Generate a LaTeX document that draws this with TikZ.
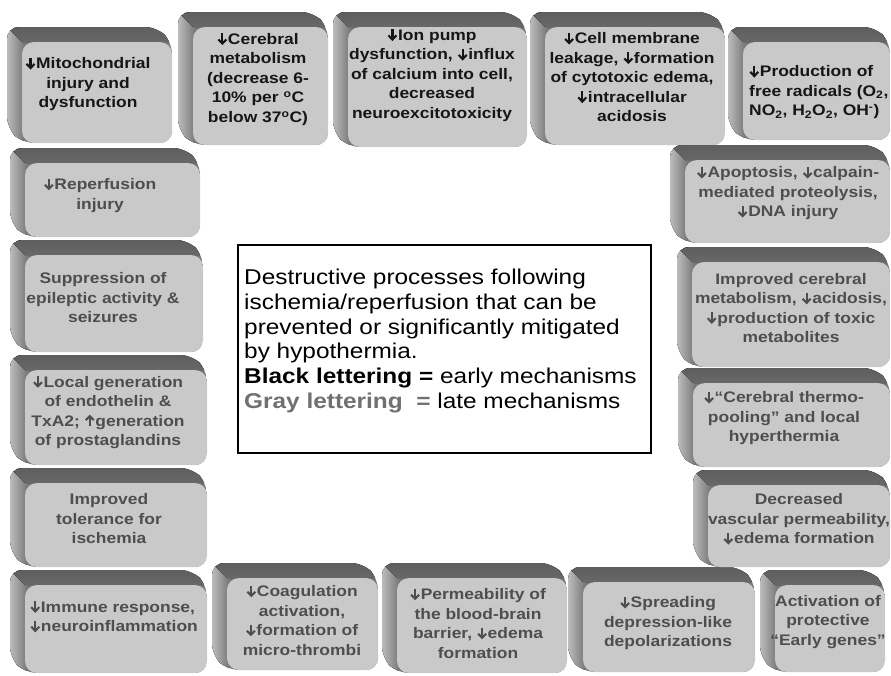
\documentclass[tikz,border=0pt]{standalone}
\usepackage{fontspec}
\setmainfont{Liberation Sans}[FakeStretch=1.14]
\usepackage{tikz}
\definecolor{bevFace}{RGB}{201,201,201}
\definecolor{bevTop}{RGB}{104,104,104}
\definecolor{bevLight}{RGB}{192,192,192}
\definecolor{bevDark}{RGB}{120,120,120}
\definecolor{earlyText}{RGB}{22,22,22}
\definecolor{lateText}{RGB}{78,78,78}
\definecolor{legendGray}{RGB}{112,112,112}
\tikzstyle{boxText} = [font=\bfseries\fontsize{15.3}{19.5}\selectfont, align=center, inner sep=0pt]
\tikzstyle{legendText} = [font=\fontsize{21.4}{24.7}\selectfont, align=left, inner sep=0pt]
\tikzstyle{legendFrame} = [draw=black, line width=1.3pt, fill=white]
\tikzstyle{arrowGlyph} = [x=1pt, y=1pt, baseline=0pt, line width=2.1pt]
% bold down / up arrows as in the box texts
\newcommand{\dn}{\tikz[arrowGlyph]{\draw[line cap=butt] (4.6,11) -- (4.6,1); \draw[line join=miter] (0.6,5) -- (4.6,0.9) -- (8.6,5);}\hspace{0.6pt}}
\newcommand{\upar}{\tikz[arrowGlyph]{\draw[line cap=butt] (4.6,0) -- (4.6,10); \draw[line join=miter] (0.6,6) -- (4.6,10.1) -- (8.6,6);}\hspace{0.6pt}}

% bevelled box, front face from (#1,#2) to (#3,#4)
\newcommand{\bevel}[4]{%
  \begin{scope}
    \path[clip, rounded corners=12pt] (#1-15,#2-15) -- (#3-15,#2-15) -- (#3,#2) -- (#3,#4) -- (#1,#4) -- (#1-15,#4-15) -- cycle;
    \fill[bevDark] (#1-15,#2-15) rectangle (#3,#4);
    \fill[left color=bevLight, right color=bevDark] (#1-16,#2-15) rectangle (#1+2,#4);
    \fill[top color=bevTop!75!black, bottom color=bevTop] (#1-40,#2-40) -- (#3+20,#2-40) -- (#3+20,#2) -- (#1,#2) -- cycle;
  \end{scope}
  \fill[bevFace, rounded corners=12pt] (#1,#2) rectangle (#3,#4);
}

\begin{document}
\begin{tikzpicture}[x=1pt, y=-1pt]
        \useasboundingbox (0,0) rectangle (891,675);

        % Top row (early)
        \bevel{22}{42}{172}{143}
        \node [boxText, text=earlyText] (mito) at (88,84) {\dn Mitochondrial\\injury and\\dysfunction};
        \bevel{193}{27}{328}{145}
        \node [boxText, text=earlyText] (cereb) at (258,79) {\dn Cerebral\\metabolism\\(decrease 6-\\10\% per \textsuperscript{o}C\\below 37\textsuperscript{o}C)};
        \bevel{348}{27}{527}{147}
        \node [boxText, text=earlyText] (ionpump) at (432,75) {\dn Ion pump\\dysfunction, \dn influx\\of calcium into cell,\\decreased\\neuroexcitotoxicity};
        \bevel{545}{27}{725}{145}
        \node [boxText, text=earlyText] (membrane) at (632,77) {\dn Cell membrane\\leakage, \dn formation\\of cytotoxic edema,\\\dn intracellular\\acidosis};
        \bevel{743}{42}{890}{140}
        \node [boxText, text=earlyText, align=left, anchor=west] (radicals) at (749,92) {\dn Production of\\free radicals (O\textsubscript{2},\\NO\textsubscript{2}, H\textsubscript{2}O\textsubscript{2}, OH\textsuperscript{-})};

        % Left column (late)
        \bevel{25}{163}{200}{237}
        \node [boxText, text=lateText] (reperf) at (100,195) {\dn Reperfusion\\injury};
        \bevel{25}{255}{203}{352}
        \node [boxText, text=lateText] (seizure) at (103,298) {Suppression of\\epileptic activity \&\\seizures};
        \bevel{25}{370}{207}{465}
        \node [boxText, text=lateText] (endothelin) at (108,412) {\dn Local generation\\of endothelin \&\\TxA2; \upar generation\\of prostaglandins};
        \bevel{25}{483}{207}{567}
        \node [boxText, text=lateText] (tolerance) at (109,519) {Improved\\tolerance for\\ischemia};

        % Bottom row (late)
        \bevel{25}{585}{207}{673}
        \node [boxText, text=lateText, align=left, anchor=west] (immune) at (30,616) {\dn Immune response,\\\dn neuroinflammation};
        \bevel{227}{578}{378}{670}
        \node [boxText, text=lateText] (coag) at (302,620) {\dn Coagulation\\activation,\\\dn formation of\\micro-thrombi};
        \bevel{397}{578}{567}{673}
        \node [boxText, text=lateText] (bbb) at (478,623) {\dn Permeability of\\the blood-brain\\barrier, \dn edema\\formation};
        \bevel{583}{582}{755}{672}
        \node [boxText, text=lateText] (spreading) at (668,623) {\dn Spreading\\depression-like\\depolarizations};
        \bevel{775}{585}{885}{672}
        \node [boxText, text=lateText] (genes) at (828,622) {Activation of\\protective\\“Early genes”};

        % Right column (late)
        \bevel{685}{160}{890}{243}
        \node [boxText, text=lateText] (apoptosis) at (788,193) {\dn Apoptosis, \dn calpain-\\mediated proteolysis,\\\dn DNA injury};
        \bevel{692}{262}{890}{367}
        \node [boxText, text=lateText] (metab) at (791,308) {Improved cerebral\\metabolism, \dn acidosis,\\\dn production of toxic\\metabolites};
        \bevel{693}{383}{890}{467}
        \node [boxText, text=lateText] (pooling) at (784,418) {\dn “Cerebral thermo-\\pooling” and local\\hyperthermia};
        \bevel{708}{485}{890}{567}
        \node [boxText, text=lateText] (vascular) at (799,519) {Decreased\\vascular permeability,\\\dn edema formation};

        % Legend
        \draw [legendFrame] (238,245) rectangle (651,453);
        \node [legendText, anchor=west] (legend) at (244,341) {Destructive processes following\\ischemia/reperfusion that can be\\prevented or significantly mitigated\\by hypothermia.\\{\bfseries Black lettering =} early mechanisms\\{\bfseries\color{legendGray}Gray lettering \ =} late mechanisms};
\end{tikzpicture}
\end{document}
